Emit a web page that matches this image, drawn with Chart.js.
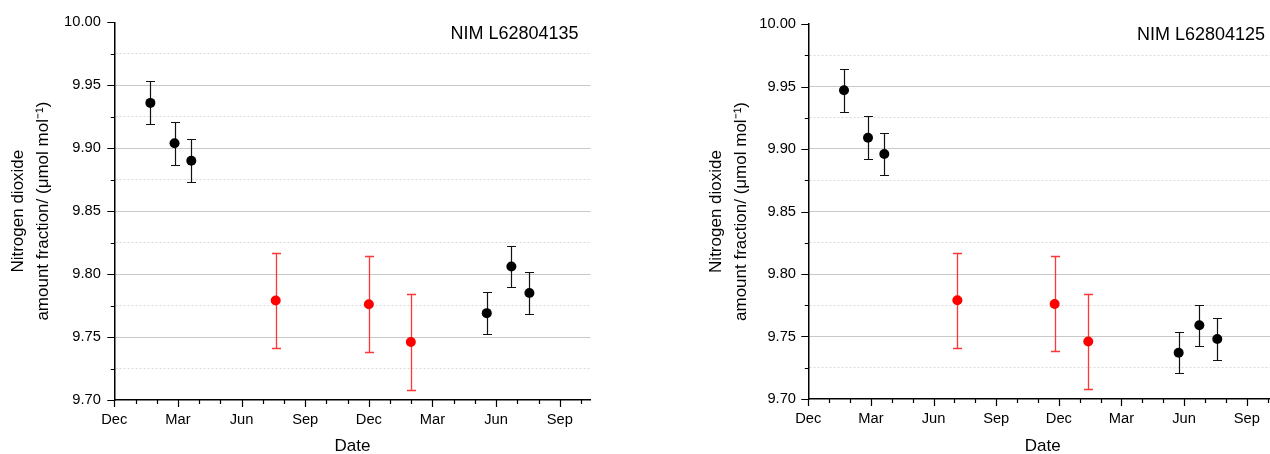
<!DOCTYPE html>
<html>
<head>
<meta charset="utf-8">
<title>Nitrogen dioxide amount fraction</title>
<script src="https://cdn.jsdelivr.net/npm/chart.js@4.4.1/dist/chart.umd.min.js"></script>
<style>
  html, body { margin: 0; padding: 0; background: #fff; overflow: hidden; }
  #wrap { position: relative; width: 1270px; height: 454px; overflow: hidden; }
  .panel { position: absolute; top: 0; height: 454px; }
</style>
</head>
<body>
<div id="wrap">
  <div class="panel" style="left:0; width:635px;"><canvas id="chartA"></canvas></div>
  <div class="panel" style="left:635px; width:660px;"><canvas id="chartB"></canvas></div>
</div>
<script>
// ---- axis ranges and tick labels ----
// x values are months counted from 1 December of the first year
const X_MIN = 0;
const X_MAX = 22.45;
const MONTH_LABELS = ['Dec', 'Mar', 'Jun', 'Sep', 'Dec', 'Mar', 'Jun', 'Sep'];
const Y_MIN = 9.70;
const Y_MAX = 10.00;
const Y_LABELS = ['9.70', '9.75', '9.80', '9.85', '9.90', '9.95', '10.00'];

// ---- cylinder NIM L62804135 ----
const A_NAME = 'NIM L62804135';
const A_BLACK_X = [1.70, 2.84, 3.63, 17.56, 18.72, 19.57];
const A_BLACK_Y = [9.936, 9.904, 9.890, 9.769, 9.806, 9.785];
const A_BLACK_U = [0.017, 0.017, 0.017, 0.0165, 0.0165, 0.0165];
const A_RED_X = [7.61, 12.00, 13.98];
const A_RED_Y = [9.779, 9.776, 9.746];
const A_RED_U = [0.038, 0.038, 0.038];

// ---- cylinder NIM L62804125 ----
const B_NAME = 'NIM L62804125';
const B_BLACK_X = [1.71, 2.86, 3.64, 17.74, 18.73, 19.59];
const B_BLACK_Y = [9.947, 9.909, 9.896, 9.737, 9.759, 9.748];
const B_BLACK_U = [0.017, 0.017, 0.017, 0.0165, 0.0165, 0.0165];
const B_RED_X = [7.14, 11.80, 13.41];
const B_RED_Y = [9.779, 9.776, 9.746];
const B_RED_U = [0.038, 0.038, 0.038];

const FONT = "'Liberation Sans', Arial, Helvetica, sans-serif";
const BLACK = '#000000';
const RED = '#ff0000';

function toPoints(xs, ys) {
  return xs.map((x, i) => ({ x: x, y: ys[i] }));
}

// vertical error bars with caps, drawn underneath the markers
function errorBarPlugin(groups) {
  return {
    id: 'errorBars',
    beforeDatasetsDraw(chart) {
      const { ctx } = chart;
      const xs = chart.scales.x, ys = chart.scales.y;
      ctx.save();
      groups.forEach(g => {
        ctx.strokeStyle = g.color;
        ctx.lineWidth = g.width;
        g.x.forEach((xv, i) => {
          const px = Math.round(xs.getPixelForValue(xv)) + 0.5;
          const top = Math.round(ys.getPixelForValue(g.y[i] + g.u[i])) + 0.5;
          const bot = Math.round(ys.getPixelForValue(g.y[i] - g.u[i])) + 0.5;
          ctx.beginPath();
          ctx.moveTo(px, top); ctx.lineTo(px, bot);
          ctx.moveTo(px - g.cap, top); ctx.lineTo(px + g.cap, top);
          ctx.moveTo(px - g.cap, bot); ctx.lineTo(px + g.cap, bot);
          ctx.stroke();
        });
      });
      ctx.restore();
    }
  };
}

// outward tick marks: long at labelled ticks, short at the others
const tickMarkPlugin = {
  id: 'tickMarks',
  afterDraw(chart) {
    const { ctx, chartArea } = chart;
    const xs = chart.scales.x, ys = chart.scales.y;
    ctx.save();
    ctx.strokeStyle = '#000';
    ctx.lineWidth = 1.2;
    ctx.beginPath();
    xs.ticks.forEach(t => {
      const px = Math.round(xs.getPixelForValue(t.value)) + 0.5;
      const major = Math.round(t.value) % 3 === 0;
      ctx.moveTo(px, chartArea.bottom);
      ctx.lineTo(px, chartArea.bottom + (major ? 7 : 4));
    });
    ys.ticks.forEach((t, i) => {
      const py = Math.round(ys.getPixelForValue(t.value)) + 0.5;
      const major = i % 2 === 0;
      ctx.moveTo(chartArea.left, py);
      ctx.lineTo(chartArea.left - (major ? 7 : 3.5), py);
    });
    ctx.stroke();
    ctx.restore();
  }
};

// cylinder name in the upper right corner of the plot
function cornerLabelPlugin(text, dx, dy) {
  return {
    id: 'cornerLabel',
    afterDraw(chart) {
      const { ctx, chartArea } = chart;
      ctx.save();
      ctx.font = '18px ' + FONT;
      ctx.fillStyle = '#000';
      ctx.textAlign = 'right';
      ctx.textBaseline = 'middle';
      ctx.fillText(text, chartArea.right - dx, chartArea.top + dy);
      ctx.restore();
    }
  };
}

function makeChart(id, p) {
  const groups = [
    { x: p.blackX, y: p.blackY, u: p.blackU, color: '#111111', width: 1.2, cap: 4.5 },
    { x: p.redX, y: p.redY, u: p.redU, color: 'rgba(255,20,20,0.85)', width: 1.3, cap: 4.5 }
  ];
  return new Chart(document.getElementById(id), {
    type: 'scatter',
    data: {
      datasets: [
        { data: toPoints(p.blackX, p.blackY), backgroundColor: BLACK, borderWidth: 0,
          pointRadius: 5, pointHoverRadius: 5 },
        { data: toPoints(p.redX, p.redY), backgroundColor: RED, borderWidth: 0,
          pointRadius: 5, pointHoverRadius: 5 }
      ]
    },
    options: {
      responsive: true,
      maintainAspectRatio: false,
      animation: false,
      events: [],
      layout: { padding: { left: 0, top: p.padTop, right: p.padRight, bottom: 0 } },
      plugins: { legend: { display: false }, tooltip: { enabled: false } },
      scales: {
        x: {
          type: 'linear',
          min: X_MIN,
          max: X_MAX,
          afterFit(s) { s.height = 454 - p.plotBottom; },
          ticks: {
            stepSize: 1,
            includeBounds: false,
            autoSkip: false,
            maxRotation: 0,
            padding: 11,
            color: '#000',
            font: { family: FONT, size: 14.7 },
            callback: (v) => {
              const m = Math.round(v);
              return m % 3 === 0 ? (MONTH_LABELS[m / 3] || '') : '';
            }
          },
          grid: { drawOnChartArea: false, drawTicks: false },
          border: { display: true, color: '#000', width: 1.5 },
          title: {
            display: true,
            text: 'Date',
            color: '#000',
            font: { family: FONT, size: 17, lineHeight: '15px' },
            padding: { top: 0, bottom: 0 }
          }
        },
        y: {
          type: 'linear',
          min: Y_MIN,
          max: Y_MAX,
          afterFit(s) { s.width = p.axisLeft; },
          ticks: {
            stepSize: 0.025,
            autoSkip: false,
            padding: p.labelPad,
            color: '#000',
            font: { family: FONT, size: 14.7 },
            callback: (v, i) => (i % 2 === 0 ? (Y_LABELS[i / 2] || '') : '')
          },
          grid: {
            drawTicks: false,
            lineWidth: 1,
            color: (c) => {
              const n = c.chart.scales.y.ticks.length;
              if (c.index === 0 || c.index === n - 1) return 'rgba(0,0,0,0)';
              return c.index % 2 === 0 ? '#c8c8c8' : '#dadada';
            }
          },
          border: {
            display: true, color: '#000', width: 1.5,
            dash: (c) => (c.type === 'tick' && c.index % 2 === 1 ? [2, 2] : [])
          },
          title: {
            display: true,
            text: ['Nitrogen dioxide', 'amount fraction/ (\u03bcmol mol\u207b\u00b9)'],
            color: '#000',
            font: { family: FONT, size: 17, lineHeight: '25px' },
            padding: { top: p.titlePad, bottom: 0 }
          }
        }
      }
    },
    plugins: [errorBarPlugin(groups), tickMarkPlugin, cornerLabelPlugin(p.name, p.nameDx, p.nameDy)]
  });
}

makeChart('chartA', {
  name: A_NAME,
  blackX: A_BLACK_X, blackY: A_BLACK_Y, blackU: A_BLACK_U,
  redX: A_RED_X, redY: A_RED_Y, redU: A_RED_U,
  axisLeft: 114.3, padTop: 18, padRight: 44.5, plotBottom: 400,
  labelPad: 13.5, titlePad: 5.8, nameDx: 12, nameDy: 12
});

makeChart('chartB', {
  name: B_NAME,
  blackX: B_BLACK_X, blackY: B_BLACK_Y, blackU: B_BLACK_U,
  redX: B_RED_X, redY: B_RED_Y, redU: B_RED_U,
  axisLeft: 173.3, padTop: 24, padRight: 18, plotBottom: 399,
  labelPad: 12.3, titlePad: 68.5, nameDx: 12, nameDy: 11
});
</script>
</body>
</html>
